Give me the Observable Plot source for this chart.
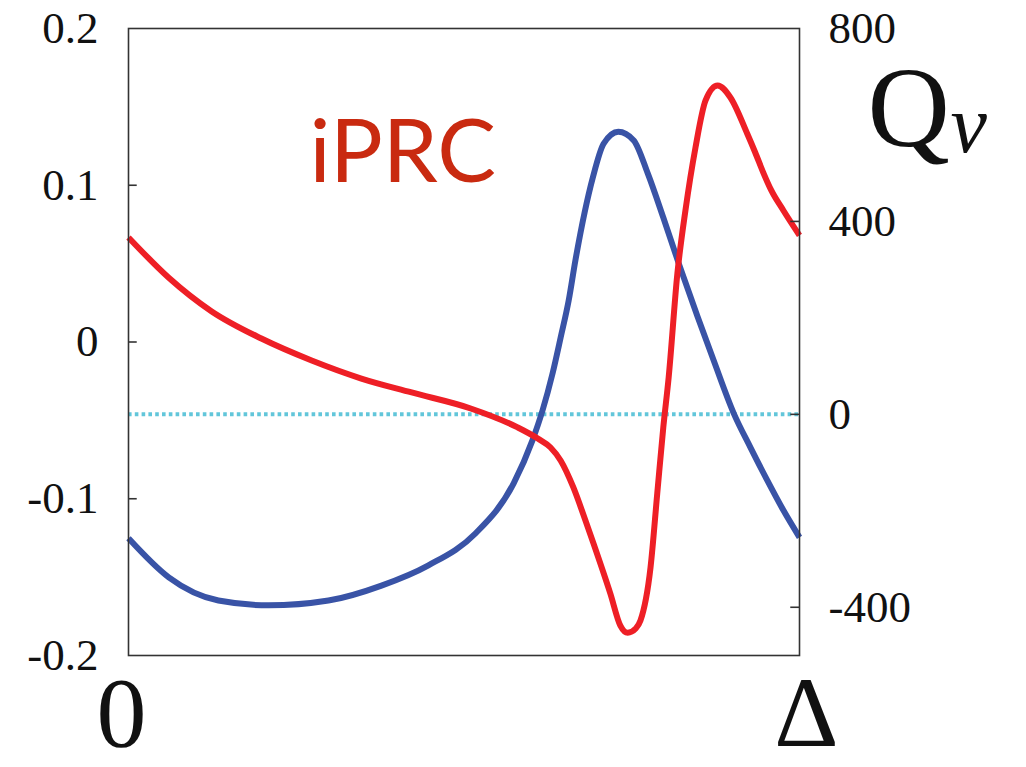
<!DOCTYPE html>
<html>
<head>
<meta charset="utf-8">
<script src="https://cdn.jsdelivr.net/npm/d3@7"></script>
<script src="https://cdn.jsdelivr.net/npm/@observablehq/plot@0.6"></script>
<style>
  html, body { margin: 0; padding: 0; background: #fff; }
  #chart { width: 1026px; height: 767px; }
  #chart svg { overflow: visible; }
</style>
</head>
<body>
<div id="chart"></div>
<script>
// ---- data (x in units of the period Δ, 0..1) ----
const redX = [0, 0.060, 0.124, 0.198, 0.273, 0.347, 0.422, 0.510, 0.580, 0.610, 0.629, 0.644, 0.663, 0.681, 0.693, 0.718, 0.733, 0.744, 0.756, 0.763, 0.778, 0.788, 0.797, 0.805, 0.818, 0.830, 0.845, 0.860, 0.878, 0.897, 0.922, 0.934, 0.946, 0.958, 0.976, 1.0];
const iprc = [0.0667, 0.0410, 0.0195, 0.0022, -0.0118, -0.0233, -0.0322, -0.0424, -0.0545, -0.0616, -0.0673, -0.0756, -0.0928, -0.1139, -0.1286, -0.1604, -0.1809, -0.1855, -0.1828, -0.1777, -0.1438, -0.0967, -0.0545, -0.0226, 0.0437, 0.0839, 0.1241, 0.1541, 0.1636, 0.1560, 0.1330, 0.1209, 0.1081, 0.0967, 0.0839, 0.0680];

const blueX = [0, 0.060, 0.134, 0.209, 0.298, 0.377, 0.447, 0.517, 0.574, 0.602, 0.617, 0.632, 0.644, 0.656, 0.666, 0.692, 0.708, 0.730, 0.753, 0.774, 0.797, 0.820, 0.848, 0.872, 0.902, 0.927, 0.952, 0.976, 1.0];
const qNu = [-257, -338, -386, -396, -386, -355, -313, -247, -143, -54, 8, 85, 159, 236, 319, 491, 561, 586, 568, 499, 408, 313, 203, 112, 2, -69, -137, -199, -255];

const leftTicks = [-0.2, -0.1, 0, 0.1, 0.2];
const rightTicks = [-400, 0, 400, 800];
const xLabels = ["0", "Δ"];
const yDomain = [-0.2, 0.2];
const qDomain = [-500, 800];

// ---- secondary axis mapping (Q onto the left y scale) ----
const qToY = q => yDomain[0] + (q - qDomain[0]) / (qDomain[1] - qDomain[0]) * (yDomain[1] - yDomain[0]);
const yToQ = y => qDomain[0] + (y - yDomain[0]) / (yDomain[1] - yDomain[0]) * (qDomain[1] - qDomain[0]);

const redData = redX.map((x, i) => ({x, y: iprc[i]}));
const blueData = blueX.map((x, i) => ({x, y: qToY(qNu[i])}));

const tickLen = 0.013;
const serif = "'Liberation Serif', 'Times New Roman', serif";

const chart = Plot.plot({
  width: 1026,
  height: 767,
  marginLeft: 128,
  marginRight: 227,
  marginTop: 28,
  marginBottom: 112,
  x: {domain: [0, 1], axis: null},
  y: {domain: yDomain, axis: null},
  style: {fontFamily: serif, background: "#fff", color: "#111"},
  marks: [
    Plot.ruleY([qToY(0)], {stroke: "#62c6da", strokeWidth: 4, strokeDasharray: "3.6,3.2"}),
    Plot.line(blueData, {x: "x", y: "y", stroke: "#3953a6", strokeWidth: 6, curve: "monotone-x", strokeLinecap: "butt"}),
    Plot.line(redData, {x: "x", y: "y", stroke: "#ee1f26", strokeWidth: 6, curve: "monotone-x", strokeLinecap: "butt"}),
    Plot.frame({stroke: "#333", strokeWidth: 1.6}),
    Plot.ruleY(leftTicks.slice(1, -1), {x1: 0, x2: tickLen, stroke: "#333", strokeWidth: 1.6}),
    Plot.ruleY(rightTicks.slice(0, -1).map(qToY), {x1: 1 - tickLen, x2: 1, stroke: "#333", strokeWidth: 1.6}),
    Plot.axisY(leftTicks, {anchor: "left", tickSize: 0, tickPadding: 30, fontSize: 45, fontFamily: serif, tickFormat: d => String(d), label: null, fill: "#111"}),
    Plot.axisY(rightTicks.map(qToY), {anchor: "right", tickSize: 0, tickPadding: 29, fontSize: 45, fontFamily: serif, tickFormat: d => String(Math.round(yToQ(d))), label: null, fill: "#111"}),
    Plot.text(["iPRC"], {text: d => d, frameAnchor: "top-left", dx: 181, dy: 153, textAnchor: "start", lineAnchor: "bottom", fontSize: 88, fontFamily: "Lato, 'Open Sans', sans-serif", fill: "#c92a10"}),
    Plot.text(["Q"], {text: d => d, frameAnchor: "top-right", dx: 68, dy: 117, textAnchor: "start", lineAnchor: "bottom", fontSize: 114, fontFamily: serif, fill: "#111"}),
    Plot.text(["ν"], {text: d => d, frameAnchor: "top-right", dx: 151, dy: 123, textAnchor: "start", lineAnchor: "bottom", fontSize: 82, fontStyle: "italic", fontFamily: serif, fill: "#111"}),
    Plot.text([xLabels[0]], {text: d => d, frameAnchor: "bottom-left", dx: -7, dy: 90, textAnchor: "middle", lineAnchor: "bottom", fontSize: 100, fontFamily: serif, fill: "#111"}),
    Plot.text([xLabels[1]], {text: d => d, frameAnchor: "bottom-right", dx: 7, dy: 90, textAnchor: "middle", lineAnchor: "bottom", fontSize: 100, fontFamily: serif, fill: "#111"})
  ]
});
document.getElementById("chart").appendChild(chart);
</script>
</body>
</html>
